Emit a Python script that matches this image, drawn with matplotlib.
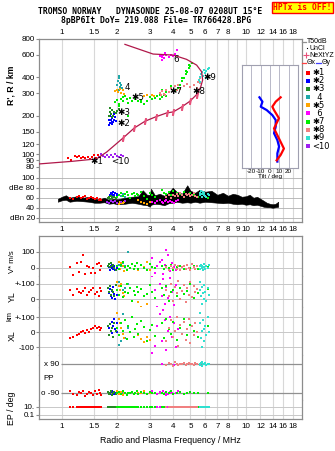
import matplotlib
matplotlib.use("Agg")
import matplotlib.pyplot as plt
from matplotlib.lines import Line2D

W, H = 335, 451

# ---- data ----
CLUSTERS = ["1", "2", "3", "4", "5", "6", "7", "8", "9", "10"]
COLORS = {"1": "#ff0000", "2": "#0000ff", "3": "#228b22", "4": "#20a8a8", "5": "#ffa500",
          "6": "#ff00ff", "7": "#00ee00", "8": "#f08080", "9": "#30e0d0", "10": "#a020f0"}
LEGEND_TXT = ["\u27311", "\u27312", "\u27313", "  4", "\u27315", "  6", "\u27317", "\u27318", "\u27319", "<10"]

# echo traces R'(f)
F_TOP = {
    "1": [1.08, 1.12, 1.17, 1.2, 1.24, 1.27, 1.3, 1.34, 1.38, 1.42, 1.46, 1.5, 1.54, 1.57, 1.6, 1.63],
    "10": [1.58, 1.63, 1.68, 1.72, 1.76, 1.8, 1.85, 1.9, 1.95, 2.0, 2.05, 2.1, 2.15],
    "2": [1.8, 1.82, 1.84, 1.86, 1.88, 1.9, 1.92, 1.95, 1.97, 1.83, 1.87, 1.93, 1.8],
    "3": [1.8, 1.82, 1.85, 1.88, 1.9, 1.93, 1.96, 2.0, 2.05, 1.83, 1.87],
    "4": [2.0, 2.02, 2.04, 2.06, 2.08, 2.03, 2.05, 2.1, 2.12],
    "5": [1.95, 1.98, 2.02, 2.06, 2.1, 2.14, 2.18, 2.8, 2.9, 3.0, 3.1, 3.15],
    "7": [1.95, 2.0, 2.05, 2.1, 2.15, 2.2, 2.25, 2.3, 2.35, 2.4, 2.5, 2.6, 2.7, 2.8, 2.9, 3.0,
          3.1, 3.2, 3.3, 3.4, 3.5, 3.6, 3.7, 3.5, 3.7, 3.9, 4.1, 4.3, 4.4, 4.5, 4.6, 4.7, 4.8,
          4.9, 5.0, 5.1, 4.5, 4.7, 4.9, 2.05, 2.15, 2.28, 2.5, 2.7, 3.4],
    "8": [3.4, 3.5, 3.6, 3.7, 3.8, 3.9, 4.0, 4.1, 4.2, 4.3, 4.4, 4.6, 4.8, 5.0, 5.2, 5.4, 5.5,
          5.6, 5.7, 5.75, 5.65, 3.45, 3.65],
    "6": [3.4, 3.45, 3.5, 3.55, 3.6, 3.7, 3.8, 3.9, 4.0, 4.1, 4.2, 3.5, 3.65],
    "9": [5.55, 5.6, 5.7, 5.8, 5.9, 6.0, 6.1, 6.2, 6.3, 5.65, 5.85, 6.05],
}
R_TOP = {
    "1": [93, 90, 97, 95, 97, 94, 96, 93, 95, 92, 96, 98, 94, 99, 96, 100],
    "10": [95, 100, 97, 96, 99, 95, 98, 96, 100, 97, 96, 99, 97],
    "2": [168, 176, 185, 180, 192, 178, 186, 196, 182, 200, 172, 205, 185],
    "3": [200, 212, 205, 222, 198, 215, 208, 218, 224, 228, 195],
    "4": [345, 370, 390, 360, 335, 405, 315, 350, 330],
    "5": [310, 318, 305, 322, 300, 315, 295, 285, 290, 280, 292, 286],
    "7": [255, 265, 248, 272, 260, 285, 268, 252, 275, 262, 270, 258, 265, 248, 262, 280,
          268, 275, 285, 290, 278, 292, 284, 320, 305, 340, 312, 328, 345, 370, 395, 420, 440,
          470, 490, 515, 390, 450, 500, 240, 282, 198, 280, 255, 270],
    "8": [300, 310, 296, 320, 305, 330, 312, 338, 318, 345, 325, 340, 352, 335, 345, 330, 365,
          390, 420, 440, 360, 290, 288],
    "6": [580, 600, 570, 590, 560, 595, 575, 600, 585, 610, 650, 545, 620],
    "9": [380, 400, 420, 440, 455, 430, 445, 460, 470, 365, 410, 390],
}
TRACE_LABELS = [("\u27311", 1.42, 87), ("<10", 1.85, 88), ("\u27312", 1.99, 173), ("\u27313", 2.0, 210),
                ("4", 2.2, 331), ("\u27315", 2.4, 275), ("6", 4.05, 550), ("\u27317", 3.85, 310),
                ("\u27318", 5.1, 306), ("\u27319", 5.9, 395)]

# true-height profile (NeXtYZ)
PROF_F = [0.75, 1.13, 1.54, 1.75, 2.15, 2.47, 2.83, 3.24, 3.71, 4.03, 4.48, 4.96, 5.40,
          5.67, 5.82, 5.75, 5.40, 4.76, 4.03, 3.13, 2.20]
PROF_R = [84, 88, 92, 104, 134, 160, 181, 196, 210, 214, 234, 259, 292,
          332, 379, 440, 496, 550, 594, 605, 720]

# tilt inset
TILT_R_X = [277, 256, 234, 220, 190, 158, 132, 110, 98, 89]
TILT_X = [11.4, 6.1, 2.5, 4.3, 9.6, 4.3, 9.6, 14.9, 11.4, 7.1]
TILT_R_Y = [277, 256, 234, 220, 201, 184, 163, 145, 128, 114, 101, 87]
TILT_Y = [-11.3, -8.1, -9.9, -3.5, 2.5, 6.1, 6.1, 4.3, 7.9, 9.7, 7.9, 7.9]

# noise band (dB)
NOISE_F = [0.95, 1.0, 1.05, 1.1, 1.2, 1.3, 1.4, 1.5, 1.6, 1.7, 1.8, 1.9, 2.0, 2.2, 2.4, 2.6,
           2.75, 2.9, 3.0, 3.05, 3.2, 3.4, 3.6, 3.8, 4.0, 4.2, 4.5, 4.8, 5.0, 5.3, 5.6, 6.0,
           6.5, 7.0, 7.5, 8.0, 8.5, 9.0, 9.5, 10, 10.5, 11, 11.5, 12, 12.5, 13, 13.5, 14, 14.5, 15]
NOISE_HI = [58, 62, 65, 60, 63, 60, 62, 58, 57, 60, 56, 58, 57, 60, 62, 63, 75, 66, 66, 78,
            65, 68, 64, 70, 80, 72, 68, 85, 74, 70, 76, 72, 74, 66, 70, 64, 68, 66, 62, 63,
            66, 60, 62, 58, 54, 50, 48, 47, 48, 52]
NOISE_LO = [52, 55, 56, 52, 54, 53, 52, 50, 50, 51, 48, 49, 47, 48, 50, 48, 46, 45, 42, 46,
            48, 47, 45, 49, 50, 52, 50, 51, 50, 52, 50, 52, 51, 50, 49, 50, 48, 47, 48, 46,
            47, 45, 46, 44, 42, 41, 41, 40, 41, 42]

# per-echo parameters, lower panels
F_BOT = {
    "1": [1.1, 1.15, 1.2, 1.23, 1.27, 1.3, 1.33, 1.36, 1.4, 1.44, 1.48, 1.52, 1.55, 1.58, 1.61, 1.64],
    "2": [1.8, 1.82, 1.84, 1.86, 1.88, 1.9, 1.92, 1.95, 1.98, 2.0],
    "3": [1.78, 1.8, 1.83, 1.85, 1.87, 1.9, 1.93, 1.96],
    "4": [2.05, 2.1, 2.15, 2.2, 2.28],
    "5": [2.0, 2.03, 2.06, 2.1, 2.14, 2.18, 2.6, 2.7, 2.8, 2.9, 3.0],
    "6": [3.1, 3.2, 3.3, 3.4, 3.48, 3.55, 3.62, 3.7, 3.78, 3.85, 3.95, 4.05, 4.15, 4.25],
    "7": [2.0, 2.05, 2.1, 2.15, 2.2, 2.25, 2.3, 2.35, 2.4, 2.45, 2.5, 2.55, 2.6, 2.7, 2.8, 2.9,
          3.0, 3.1, 3.2, 3.5, 3.6, 3.7, 3.8, 3.9, 4.0, 4.2, 4.4, 4.6, 4.8, 5.0, 5.2, 5.5, 6.2],
    "8": [3.7, 3.8, 3.9, 4.0, 4.1, 4.2, 4.3, 4.4, 4.5, 4.6, 4.7, 4.8, 4.9, 5.0, 5.1, 5.2, 5.3, 5.4],
    "9": [5.6, 5.65, 5.7, 5.75, 5.8, 5.85, 5.9, 5.95, 6.0, 6.1, 6.2, 6.3],
    "10": [1.75, 1.8, 1.85, 1.9, 1.95, 2.0, 2.1, 2.2],
}
AMP = {
    "1": [60, 58, 62, 64, 60, 61, 63, 58, 60, 62, 59, 57, 60, 55, 58, 56],
    "2": [62, 66, 70, 68, 64, 72, 66, 70, 68, 64],
    "3": [60, 62, 58, 64, 60, 62, 61, 59],
    "4": [66, 64, 68, 62, 65],
    "5": [50, 48, 52, 50, 49, 51, 55, 52, 50, 48, 52],
    "6": [52, 50, 54, 55, 52, 50, 53, 56, 51, 54, 52, 50, 53, 55],
    "7": [62, 66, 70, 64, 68, 72, 65, 60, 67, 70, 63, 68, 66, 72, 64, 58, 70, 66, 62, 75, 70,
          68, 72, 66, 74, 70, 68, 72, 65, 70, 66, 62, 60],
    "8": [62, 65, 60, 66, 63, 68, 64, 70, 66, 62, 67, 65, 68, 63, 66, 70, 64, 61],
    "9": [66, 70, 74, 62, 68, 72, 65, 70, 64, 62, 68, 66],
    "10": [52, 50, 54, 51, 53, 50, 52, 54],
}
VSTAR = {
    "1": [8, -45, 29, -23, 35, 81, -40, 12, 5, -30, -2, -33, 23, 29, -12, 10],
    "2": [5, -10, 15, 0, 20, -5, 10, -15, 0, 8],
    "3": [15, 25, 5, 30, 10, 20, 0, -10],
    "4": [20, 10, 30, 15, 98],
    "5": [10, 35, -5, 31, 15, -20, -10, 20, 5, 35, -15],
    "6": [60, -30, 10, 40, 50, -40, 20, 113, 80, -20, 30, 5, -10, 15],
    "7": [10, -5, 20, 40, 5, -10, 15, 0, 25, -8, 12, 30, -5, 18, 2, -12, 22, 8, -3, 10, -5,
          15, 0, 20, -10, 5, 12, -8, 18, 0, 10, -5, 8],
    "8": [5, -10, 15, 0, 20, -5, 10, -15, 8, 12, -8, 18, 0, -12, 22, 6, -4, 14],
    "9": [10, -5, 20, 0, 15, -10, 5, 25, -8, 12, 0, 18],
}
YLOC = {
    "1": [60, 30, 67, 49, 38, 53, 75, 27, 45, 60, 75, 35, 45, 22, 71, 55],
    "2": [40, 65, 20, 55, 10, 80, 35, 0, 60, 25],
    "3": [70, 50, 85, 30, 60, 45, 20, 90],
    "4": [115, 90, 60, 75, 100],
    "5": [113, 85, 60, 100, 40, 20, -20, -50, -87, -30, -60],
    "6": [150, 60, -50, 100, 20, 130, -30, 80, 10, 140, 50, -40, 95, 120],
    "7": [60, 30, 85, 15, 50, 100, 40, 70, -10, 55, 25, 80, 45, 65, 20, 35, 90, 50, 5, 70, 30,
          85, -15, 45, 60, 20, 75, 35, 55, 100, 10, 40, 65],
    "8": [60, 20, 100, -10, 80, 40, 120, 0, 55, 90, -20, 70, 30, 110, 15, 85, 45, 65],
    "9": [110, 60, 20, -30, 80, 40, 0, 95, 50, -15, 70, 30],
}
XLOC = {
    "1": [-38, -31, -20, -10, -2, 7, -5, 16, 2, 20, 29, 42, 24, 35, 13, 30],
    "2": [30, 55, 10, 70, -5, 40, 85, 20, 60, 0],
    "3": [40, -20, 55, 10, 25, -30, 60, 5],
    "4": [-87, -60, 120, -40, 30],
    "5": [127, 90, 60, 30, -10, -40, -20, -45, -67, -30, -55],
    "6": [-140, -90, 40, 120, -60, 150, 80, -120, 10, 100, -30, 60, -100, 20],
    "7": [30, -20, 60, 10, 80, -45, 40, 0, 100, -30, 20, 55, -10, 75, 35, -60, 15, 45, -25,
          60, -40, 90, 20, -15, 70, -50, 30, 85, -20, 50, 10, -35, 40],
    "8": [-60, 30, 80, -30, 10, 100, -90, 50, -10, 70, -50, 20, 90, -70, 40, -20, 60, 0],
    "9": [130, 60, -40, 10, -100, 80, 20, -60, 40, -20, 100, 0],
}
POL = {
    "1": [-80, -95, -100, -85, -90, -75, -110, -95, -85, -90, -100, -80, -95, -70, -90, -105],
    "2": [-90, -95, -85, -100, -80, -90, -95, -88, -92, -90],
    "3": [-85, -95, -90, -80, -100, -90, -85, -95],
    "4": [-85, -95, -90, -88, -92],
    "5": [-80, -95, -90, -85, -100, -90, -88, -92, -80, -95, -90],
    "6": [-80, -90, -95, -85, 90, -75, -90, -100, -95, -85, -90, 85, -90, -80],
    "7": [-90, -85, -95, -80, -90, -100, -88, -92, -85, -95, -90, -80, -94, -86, -90, -98,
          -84, -90, -92, -88, -95, -85, -90, -80, -94, -90, -86, -96, -90, -84, -92, -88, -90],
    "8": [85, 95, 90, 80, 100, 90, 86, 92, 90, 96, 84, 90, 94, 88, 90, 82, 98, 90],
    "9": [90, 85, 95, 80, 100, 90, 88, 92, 96, 84, 90, 90],
}
EPOL = {
    "1": [10, 9, 11, 10, 12, 10, 9, 11, 10, 10, 12, 11, 10, 9, 11, 10],
    "2": [8, 10, 12, 9, 10, 11, 8, 10, 9, 12],
    "3": [10, 11, 9, 12, 10, 8, 11, 10],
    "4": [10, 11, 9, 10, 10],
    "5": [12, 10, 9, 11, 10, 10, 12, 9, 10, 11, 10],
    "6": [10, 9, 11, 10, 12, 10, 9, 11, 10, 10, 12, 10, 9, 11],
    "7": [10, 11, 9, 10, 12, 10, 11, 9, 10, 10, 12, 9, 10, 11, 10, 9, 12, 10, 11, 10, 9, 10,
          11, 12, 10, 9, 10, 11, 10, 12, 10, 9, 11],
    "8": [10, 9, 11, 10, 12, 10, 9, 11, 10, 10, 12, 9, 10, 11, 10, 9, 12, 10],
    "9": [10, 11, 9, 12, 10, 11, 10, 9, 12, 10, 11, 10],
}

GRID_F = [1, 1.5, 2, 3, 4, 5, 6, 7, 8, 9, 10, 12, 14, 16, 18]
TICKS_A = [1, 1.5, 2, 3, 4, 5, 6, 7, 8, 10, 12, 14, 16, 18]
TICKS_B = [1, 1.5, 2, 3, 4, 5, 6, 7, 8, 9, 10, 12, 14, 16, 18]

FRAME = "#8c8c8c"
GRIDC = "#d8d8d8"
PROFC = "#b0184a"
FS = 5.8
plt.rcParams["font.family"] = ["Liberation Sans", "DejaVu Sans"]

fig = plt.figure(figsize=(W / 100, H / 100), dpi=100)


def box(top, bottom, left=39, right=302):
    return [left / W, 1 - bottom / H, (right - left) / W, (bottom - top) / H]


def px(x, y):
    return x / W, 1 - y / H


def freq_axis(ax, ticks=None, where="bottom"):
    ax.set_xscale("log")
    ax.set_xlim(0.75, 20.2)
    ax.minorticks_off()
    for f in GRID_F:
        ax.axvline(f, color=GRIDC, lw=0.8, zorder=0)
    if ticks is None:
        ax.set_xticks([])
    else:
        ax.set_xticks(ticks)
        ax.set_xticklabels([("%g" % t) for t in ticks])
        if where == "top":
            ax.xaxis.tick_top()
    ax.tick_params(axis="x", length=0, labelsize=FS, pad=1.5 if where == "top" else 3)
    ax.tick_params(axis="y", length=2, labelsize=FS, pad=1, color=FRAME)
    for s in ax.spines.values():
        s.set_color(FRAME)
        s.set_linewidth(0.9)


def dots(ax, x, y, c, ms=2.1):
    ax.plot(x, y, "s", color=c, ms=ms, mew=0, ls="none", zorder=3)


# ---- R' panel ----
ax = fig.add_axes(box(38.5, 171))
freq_axis(ax, TICKS_A, "top")
ax.set_yscale("log")
ax.set_ylim(74, 800)
ax.minorticks_off()
rt = [80, 90, 100, 120, 150, 200, 300, 400, 600, 800]
ax.set_yticks(rt)
ax.set_yticklabels([str(v) for v in rt])
ax.spines["bottom"].set_visible(False)
for k in CLUSTERS:
    if k in F_TOP:
        dots(ax, F_TOP[k], R_TOP[k], COLORS[k])
ax.plot(PROF_F, PROF_R, color=PROFC, lw=0.9, zorder=4)
ax.plot(PROF_F, PROF_R, ls="none", marker="$I$", ms=4, color="#e8507a",
        markevery=slice(4, 13), zorder=5)
for txt, f, r in TRACE_LABELS:
    ax.text(f, r, txt, fontsize=6.3, color="black", ha="left", va="center", zorder=6,
            family=["DejaVu Sans"])
fig.text(*px(11, 85), "R', R / km", rotation=90, ha="center", va="center", fontsize=6.3,
         fontweight="bold")

# ---- amplitude panel ----
ax = fig.add_axes(box(171, 222))
freq_axis(ax, TICKS_B)
ax.set_ylim(11.5, 113.5)
ax.set_yticks([20, 40, 60, 80, 100])
ax.set_yticklabels(["dBn 20", "40", "60", "dBe 80", "100"])
ax.spines["top"].set_visible(False)
for v in [20, 40, 60, 80, 100]:
    ax.axhline(v, color="#b0b0b0", lw=0.6, zorder=0)
ax.fill_between(NOISE_F, NOISE_LO, NOISE_HI, color="black", lw=0.4, zorder=2)
for k in CLUSTERS:
    dots(ax, F_BOT[k], AMP[k], COLORS[k])

# ---- tilt inset ----
ax = fig.add_axes(box(65, 168, 242, 298), zorder=5)
ax.set_facecolor("white")
ax.set_xlim(-30, 30)
ax.set_yscale("log")
ax.set_ylim(77.5, 496)
ax.set_yticks([])
ax.minorticks_off()
ax.set_xticks([-20, -10, 0, 10, 20])
ax.set_xticklabels(["-20", "-10", "0", "10", "20"])
ax.tick_params(axis="x", length=0, labelsize=4.6, pad=1)
for v in [-20, -10, 0, 10, 20]:
    ax.axvline(v, color="#b8b8c8", lw=0.7, zorder=0)
for s in ax.spines.values():
    s.set_color("#a0a0b0")
ax.plot(TILT_Y, TILT_R_Y, color="#0000ff", lw=1.6)
ax.plot(TILT_X, TILT_R_X, color="#ff0000", lw=1.6)
ax.set_xlabel("Tilt / deg", fontsize=4.6, labelpad=0)

# ---- lower panels ----
bands = [
    ("vs", 236, 276, (-50, 200), [0, 100], ["0", "100"]),
    ("yl", 276, 307, (-53, 153), [0, 100], ["0", "+-100"]),
    ("xl", 307, 355, (-153, 167), [-100, 0, 100], ["-100", "0", "+-100"]),
    ("pp", 355, 400, (-133, 146), [], []),
    ("ep", 400, 419, (0.01, 562), [0.1, 10], ["0.1", "10."]),
]
values = {"vs": VSTAR, "yl": YLOC, "xl": XLOC, "pp": POL, "ep": EPOL}
for i, (name, top, bot, lim, yt, yl) in enumerate(bands):
    ax = fig.add_axes(box(top, bot))
    last = name == "ep"
    freq_axis(ax, TICKS_A if last else None)
    if name == "ep":
        ax.set_yscale("log")
        ax.minorticks_off()
    ax.set_ylim(*lim)
    ax.set_yticks(yt)
    ax.set_yticklabels(yl)
    if i > 0:
        ax.spines["top"].set_visible(False)
    if not last:
        ax.spines["bottom"].set_visible(False)
    for v in yt:
        ax.axhline(v, color="#c8c8c8", lw=0.7, zorder=0)
    if name == "pp":
        ax.hlines([90, -90], 0.99, 20.2, color="#909090", lw=0.9, zorder=1)
        ax.text(0.99, 90, "x 90 ", ha="right", va="center", fontsize=FS)
        ax.text(0.99, -90, "o -90 ", ha="right", va="center", fontsize=FS)
        ax.text(0.015, 0.47, "PP", transform=ax.transAxes, ha="left", va="center", fontsize=FS)
    for k in CLUSTERS:
        if k in values[name]:
            dots(ax, F_BOT[k], values[name][k], COLORS[k])
    if last:
        ax.set_xlabel("Radio and Plasma Frequency / MHz", fontsize=6.3, labelpad=4)

fig.text(*px(12, 262), "V* m/s", rotation=90, ha="center", va="center", fontsize=5.6)
fig.text(*px(12, 297), "YL", rotation=90, ha="center", va="center", fontsize=6.3)
fig.text(*px(10, 316), "km", rotation=90, ha="center", va="center", fontsize=5.4)
fig.text(*px(12, 336), "XL", rotation=90, ha="center", va="center", fontsize=6.3)
fig.text(*px(12, 408), "EP / deg", rotation=90, ha="center", va="center", fontsize=6.3)

# ---- legend column ----
def leg_line(x0, x1, y, c, lw=0.9):
    fig.add_artist(Line2D([x0 / W, x1 / W], [1 - y / H, 1 - y / H], color=c, lw=lw))


LFS = 5.0
leg_line(302, 306, 41.7, "#909090")
fig.text(*px(307, 41.7), "T50dB", fontsize=LFS, va="center")
fig.add_artist(Line2D([307 / W], [1 - 48.3 / H], marker="s", ms=0.8, color="black", mew=0))
fig.text(*px(310, 48.3), "UnCl", fontsize=LFS, va="center")
fig.add_artist(Line2D([306 / W], [1 - 55.3 / H], marker="+", ms=4, color="#e8507a", mew=0.8))
fig.text(*px(309, 55.3), "NeXtYZ", fontsize=LFS, va="center")
leg_line(302, 306, 63, "#ff4040")
fig.text(*px(306.5, 63), "\u0398x", fontsize=LFS, va="center")
leg_line(316, 321, 63, "#4040ff")
fig.text(*px(321.5, 63), "\u0398y", fontsize=LFS, va="center")
for j, k in enumerate(CLUSTERS):
    y = 72.7 + j * 8.15
    fig.add_artist(Line2D([307.5 / W], [1 - y / H], marker="s", ms=2.6, color=COLORS[k], mew=0))
    fig.text(*px(312.5, y), LEGEND_TXT[j], fontsize=6.0, va="center", family=["DejaVu Sans"])

# ---- header ----
fig.text(*px(150, 12), "TROMSO NORWAY   DYNASONDE 25-08-07 0208UT 15\u00b0E", ha="center",
         va="center", fontsize=5.9, family="DejaVu Sans Mono", fontweight="bold")
fig.text(*px(156, 20.5), "8pBP6It DoY= 219.088 File= TR766428.BPG", ha="center",
         va="center", fontsize=5.9, family="DejaVu Sans Mono", fontweight="bold")
fig.text(*px(302.5, 7.5), "HPTx is OFF!", ha="center", va="center", fontsize=5.8,
         family="DejaVu Sans Mono", fontweight="bold", color="red",
         bbox=dict(facecolor="#ffff00", edgecolor="red", boxstyle="square,pad=0.1", lw=1))

fig.savefig("out.png", dpi=100)
